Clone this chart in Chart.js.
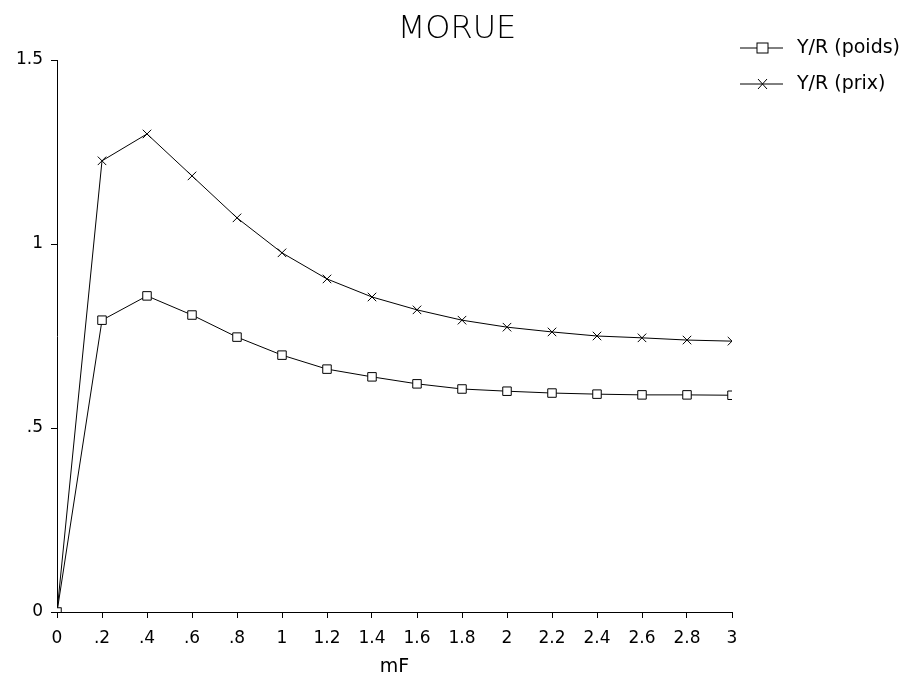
<!DOCTYPE html>
<html>
<head>
<meta charset="utf-8">
<script src="https://cdn.jsdelivr.net/npm/chart.js@4"></script>
<style>
  body { margin: 0; background: #fff; }
  #wrap { width: 915px; height: 680px; }
</style>
</head>
<body>
<div id="wrap"><canvas id="graph" width="915" height="680"></canvas></div>
<script>
// mF values
const mF = [0, 0.2, 0.4, 0.6, 0.8, 1, 1.2, 1.4, 1.6, 1.8, 2, 2.2, 2.4, 2.6, 2.8, 3];
const poids = [0, 0.793, 0.859, 0.807, 0.747, 0.698, 0.660, 0.639, 0.620, 0.606, 0.600, 0.595, 0.592, 0.590, 0.590, 0.589];
const prix = [0, 1.226, 1.299, 1.185, 1.071, 0.976, 0.905, 0.856, 0.821, 0.793, 0.774, 0.761, 0.750, 0.745, 0.739, 0.736];
const seriesNames = ["Y/R (poids)", "Y/R (prix)"];
const chartTitle = "MORUE";

const font = "'DejaVu Sans', sans-serif";

function pts(ys) {
    return mF.map((x, i) => ({ x: x, y: ys[i] }));
}

// strip the leading zero like ".2" / ".5"
function fmt(v) {
    let s = String(Math.round(v * 10) / 10);
    if (s.startsWith("0.")) s = s.slice(1);
    return s;
}

// title + legend on the right, drawn by hand
const decoPlugin = {
    id: "deco",
    afterDraw(chart) {
        const ctx = chart.ctx;
        ctx.save();
        ctx.fillStyle = "#000";
        ctx.font = "300 32px " + font;
        ctx.textAlign = "center";
        ctx.textBaseline = "middle";
        ctx.fillText(chartTitle, 457, 30);

        ctx.textAlign = "left";
        chart.data.datasets.forEach((ds, i) => {
            const y = 48 + i * 36;
            ctx.strokeStyle = "#000";
            ctx.lineWidth = 1;
            ctx.beginPath();
            ctx.moveTo(740, y);
            ctx.lineTo(783, y);
            ctx.stroke();
            ctx.beginPath();
            if (ds.pointStyle === "rect") {
                ctx.fillStyle = "#fff";
                ctx.fillRect(757, y - 5, 11, 10);
                ctx.strokeRect(757, y - 5, 11, 10);
            } else {
                ctx.moveTo(758, y - 5); ctx.lineTo(767, y + 5);
                ctx.moveTo(767, y - 5); ctx.lineTo(758, y + 5);
                ctx.stroke();
            }
            ctx.fillStyle = "#000";
            ctx.font = "19px " + font;
            ctx.textBaseline = "middle";
            ctx.fillText(ds.label, 797, y);
        });
        ctx.restore();
    }
};

new Chart(document.getElementById("graph").getContext("2d"), {
    type: "line",
    data: {
        datasets: [
            {
                label: seriesNames[0],
                data: pts(poids),
                borderColor: "#000",
                borderWidth: 1,
                pointStyle: "rect",
                pointRadius: 6,
                pointBorderWidth: 1,
                pointBorderColor: "#000",
                pointBackgroundColor: "#fff",
                tension: 0
            },
            {
                label: seriesNames[1],
                data: pts(prix),
                borderColor: "#000",
                borderWidth: 1,
                pointStyle: "crossRot",
                pointRadius: 6,
                pointBorderWidth: 1,
                pointBorderColor: "#000",
                tension: 0
            }
        ]
    },
    options: {
        responsive: false,
        animation: false,
        layout: {
            padding: { top: 60, right: 183, left: 0, bottom: 0 }
        },
        plugins: {
            legend: { display: false },
            tooltip: { enabled: false },
            title: { display: false }
        },
        scales: {
            x: {
                type: "linear",
                min: 0,
                max: 3,
                ticks: {
                    stepSize: 0.2,
                    color: "#000",
                    font: { family: font, size: 17 },
                    padding: 10,
                    maxRotation: 0,
                    autoSkip: false,
                    callback: (v) => fmt(v)
                },
                grid: { display: true, drawOnChartArea: false, drawTicks: true, tickLength: 6, color: "#000" },
                border: { display: true, color: "#000", width: 1 },
                title: {
                    display: true,
                    text: "mF",
                    color: "#000",
                    font: { family: font, size: 19 },
                    padding: { top: 2, bottom: 2 }
                },
                afterFit: (scale) => { scale.height = 68; }
            },
            y: {
                min: 0,
                max: 1.5,
                ticks: {
                    stepSize: 0.5,
                    color: "#000",
                    font: { family: font, size: 17 },
                    padding: 8,
                    callback: (v) => fmt(v)
                },
                grid: { display: true, drawOnChartArea: false, drawTicks: true, tickLength: 6, color: "#000" },
                border: { display: true, color: "#000", width: 1 },
                afterFit: (scale) => { scale.width = 57; }
            }
        }
    },
    plugins: [decoPlugin]
});
</script>
</body>
</html>
